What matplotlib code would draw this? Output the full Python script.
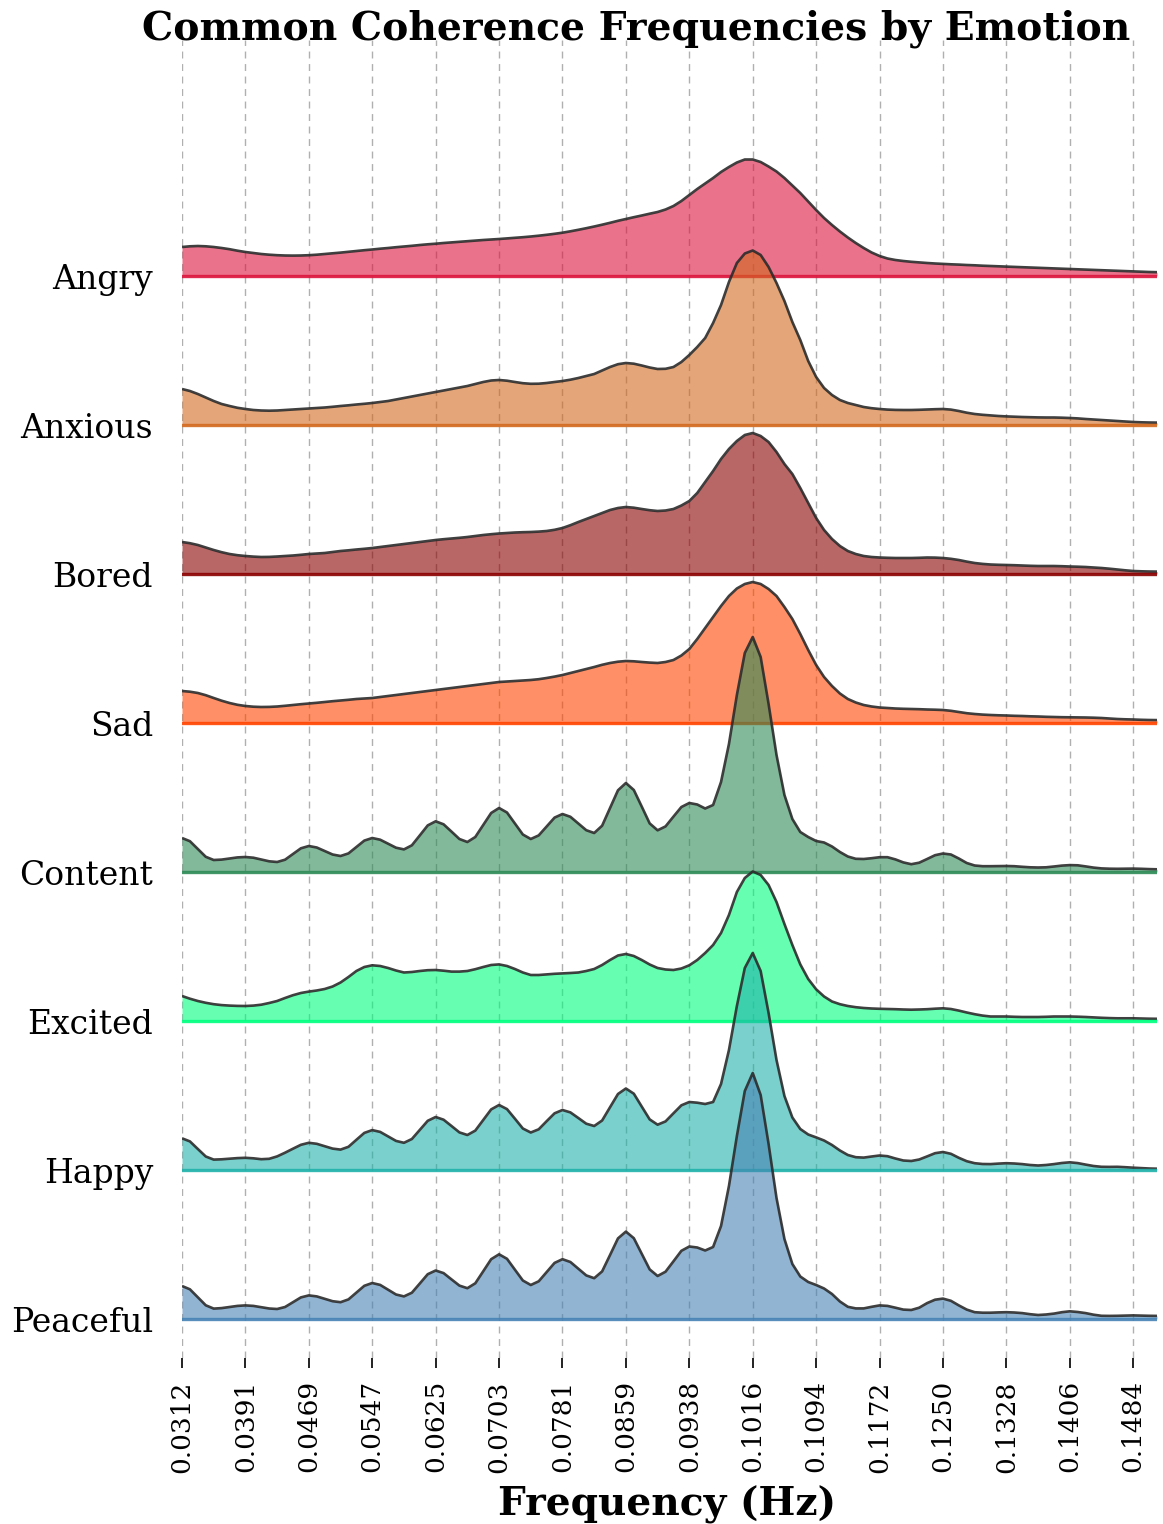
import numpy as np
import matplotlib
matplotlib.use("Agg")
import matplotlib.pyplot as plt
import matplotlib.transforms as mtransforms

# ---------------- data ----------------
emotions = ["Angry", "Anxious", "Bored", "Sad", "Content", "Excited", "Happy", "Peaceful"]
colors = ["crimson", "chocolate", "darkred", "orangered",
          "seagreen", "springgreen", "lightseagreen", "steelblue"]

# frequency grid (Hz), 1/1024 Hz spacing, 124 points
freq = np.linspace(0.03125, 0.1513671875, 124)

# density (arbitrary units), one value per grid frequency
angry = [29, 29.7, 30, 29.7, 29, 28, 26.8, 25.3, 24, 23,
         22, 21.3, 20.8, 20.5, 20.4, 20.5, 20.8, 21.3, 22, 22.7,
         23.4, 24.2, 25, 25.8, 26.5, 27.3, 28, 28.8, 29.5, 30.2,
         31, 31.7, 32.3, 33, 33.6, 34.2, 34.8, 35.4, 36, 36.5,
         37, 37.6, 38.2, 38.8, 39.5, 40.3, 41.2, 42.2, 43.3, 44.7,
         46.2, 47.8, 49.5, 51.3, 53.2, 55.2, 57, 58.8, 60.5, 62.3,
         64, 66.5, 70, 75, 81, 87, 92.5, 98, 104, 109,
         113.5, 116.5, 116.5, 114, 109.5, 104.5, 98, 90.5, 83, 74.5,
         66, 58, 51, 44.5, 38.5, 33, 28, 23.5, 20, 17.5,
         16, 15, 14.2, 13.6, 13, 12.5, 12.1, 11.7, 11.4, 11,
         10.7, 10.3, 10, 9.7, 9.4, 9.1, 8.8, 8.5, 8.2, 7.9,
         7.6, 7.3, 7, 6.7, 6.4, 6.1, 5.8, 5.5, 5.2, 4.9,
         4.6, 4.3, 4, 3.8]
anxious = [36, 34, 31, 27.5, 24, 21, 19, 17.2, 16, 15,
           14.5, 14.3, 14.5, 15, 15.5, 16, 16.5, 17, 17.5, 18.2,
           19, 19.7, 20.5, 21.2, 22, 23, 24, 25.5, 27, 28.5,
           30, 31.5, 33, 34.5, 36, 37.5, 39, 41, 43, 44.5,
           45, 44.3, 43, 41.8, 41.2, 41.3, 42, 43, 44, 45.3,
           47, 49, 51, 54.5, 58, 60.8, 62, 61.3, 59.5, 57.5,
           56, 56.2, 58, 63, 70, 78, 87, 102, 120, 143,
           162, 171.5, 174.5, 170, 158, 142, 124, 103, 85, 64,
           48, 37, 30, 25, 22, 20, 18, 16.8, 16, 15.4,
           15.1, 15, 15, 15.2, 15.5, 15.8, 16, 15.4, 14, 12.3,
           11, 10.2, 9.6, 9, 8.6, 8.3, 8, 7.8, 7.6, 7.5,
           7.5, 7.3, 7, 6.6, 6, 5.5, 5, 4.5, 4, 3.5,
           3, 2.7, 2.5, 2.4]
bored = [32, 30.8, 29, 26.5, 24, 21.8, 20, 18.8, 18, 17.4,
         17, 17.1, 17.5, 18, 18.5, 19.2, 20, 20.5, 21, 22,
         23, 23.7, 24.5, 25.2, 26, 27, 28, 29, 30, 31,
         32, 33, 34, 34.8, 35.5, 36.2, 37, 38, 39, 39.8,
         40.5, 41, 41.5, 41.8, 42, 42.4, 43, 44.2, 46, 48.8,
         52, 55, 58, 61, 64, 66, 67, 66.3, 65, 63.8,
         63, 63.5, 65, 68.5, 73, 81, 92, 103, 115, 125,
         133, 139, 141, 138, 132, 122, 110, 100, 86, 71,
         56, 44, 35, 28, 23, 20, 18, 17, 16.5, 16.2,
         16, 16, 16, 16.2, 16.5, 16.4, 16, 15.2, 14, 12.4,
         11, 10.1, 9.5, 9.2, 9, 8.8, 8.5, 8.2, 8, 8,
         8, 7.8, 7.5, 7.3, 7, 6.5, 6, 5.3, 4.5, 3.7,
         3, 2.7, 2.5, 2.4]
sad = [32, 31.3, 30, 27.8, 25, 22.3, 20, 18.2, 17, 16.3,
       16, 16.1, 16.5, 17.2, 18, 18.8, 19.5, 20.2, 21, 21.8,
       22.5, 23.2, 24, 24.5, 25, 26, 27, 28, 29, 30,
       31, 32, 33, 34, 35, 36, 37, 38, 39, 40,
       41, 41.5, 42, 42.5, 43, 43.8, 45, 46.4, 48, 50,
       52, 54, 56, 58.2, 60, 61.3, 62, 61.7, 61, 60.4,
       60, 61, 63, 67.5, 74, 84, 95, 106, 117, 127,
       134.5, 139, 141, 139, 134, 127, 116, 104, 89, 73,
       58, 46, 37, 29.5, 24, 20.5, 18, 16.5, 15.5, 15,
       14.5, 14.2, 14, 13.8, 13.5, 13.3, 13, 12.2, 11, 9.8,
       9, 8.4, 8, 7.7, 7.5, 7.2, 7, 6.7, 6.5, 6.2,
       6, 5.8, 5.7, 5.6, 5.5, 5.3, 5, 4.5, 4, 3.7,
       3.5, 3.2, 3, 2.9]
content = [34, 30.8, 23, 15.2, 12, 12.4, 13.5, 14.6, 15, 14.3,
           12.5, 10.7, 10, 12.3, 18, 23.7, 26, 24.5, 21, 17.5,
           16, 18.6, 25, 31.4, 34, 32.3, 28.3, 24.3, 22.6, 26.7,
           36.6, 46.6, 50.7, 47.7, 40.4, 33, 30, 35, 47, 59,
           64, 59.5, 48.5, 37.5, 33, 36.6, 45.5, 54.4, 58, 55.2,
           48.5, 41.8, 39, 46.3, 64, 81.7, 89, 82, 65.4, 48.6,
           41.7, 45.6, 55.4, 65, 69, 67.5, 63.5, 67, 90, 128,
           177, 219, 235, 215, 168, 117, 77, 53, 40, 35,
           31, 29.5, 25.5, 20, 15.5, 13.2, 13, 13.8, 14.8, 14.8,
           12.6, 9.6, 7.8, 9.3, 13, 16.8, 18.5, 17.5, 13.5, 9,
           6.5, 5.8, 5.8, 5.9, 6, 5.8, 5.2, 4.7, 4.5, 4.7,
           5.5, 6.4, 6.9, 6.7, 5.6, 4.4, 3.6, 3.3, 3.2, 3.3,
           3.4, 3.2, 2.9, 2.7]
excited = [25, 22.3, 20, 18.2, 16.8, 15.9, 15.4, 15.1, 15, 15.4,
           16.3, 18, 20, 23, 25.8, 28, 29.4, 30.5, 32, 34.5,
           38.5, 44, 50, 54, 55.7, 55, 53, 50.5, 48.5, 49,
           50, 50.8, 51, 50.3, 49.4, 49.4, 50, 51.8, 54, 56,
           56.6, 55, 52, 48.5, 46, 46, 46.6, 47.2, 47.6, 48,
           48.5, 50, 52, 56, 61, 65.5, 67, 65, 61, 56.5,
           53, 51.5, 51, 52.5, 55.7, 61, 68, 76, 88, 106,
           129, 143, 149.5, 146, 136, 119, 97, 76, 56.6, 42,
           31.7, 24.5, 19.5, 16.8, 15, 13.8, 13, 12.5, 12.2, 12,
           11.8, 11.5, 11.3, 11.5, 11.8, 12.3, 12.7, 12, 10.4, 8.5,
           6.8, 5.4, 4.5, 4.5, 4.5, 4.2, 4, 4, 4, 4.2,
           4.5, 4.5, 4.5, 4.3, 4, 3.6, 3.2, 2.9, 2.7, 2.7,
           2.7, 2.5, 2.3, 2.2]
happy = [31.7, 28.6, 21, 13.5, 10.4, 10.7, 11.3, 11.9, 12.2, 11.7,
         10.8, 11.2, 13.6, 17.3, 21.3, 25.2, 27.2, 26.2, 23.8, 21.4,
         20.4, 23.2, 30.2, 37.1, 39.9, 38.1, 33.6, 29.1, 27.2, 31,
         40.1, 49.2, 53, 50.3, 44, 37.6, 35, 39.4, 50, 60.6,
         65, 60.9, 51.3, 41.5, 37.5, 40.7, 48.8, 56.7, 60, 57.6,
         52, 46.3, 44, 49.5, 62.8, 76, 81.5, 76.3, 63.4, 50.6,
         45.3, 48.6, 56.7, 64.7, 68, 67.3, 66, 68, 86, 120,
         164, 202, 217, 199, 157, 110, 74, 52.5, 41, 35.5,
         32.6, 29.5, 25, 19.5, 15, 12.8, 12.4, 13.5, 14.5, 13.8,
         11.5, 9.5, 9, 10.5, 13.6, 16.8, 18, 16.2, 12.2, 8.8,
         6.8, 6, 5.9, 6.4, 6.8, 6.5, 5.9, 5, 4.5, 5,
         5.9, 7, 7.7, 6.9, 5.4, 4, 3.2, 3.1, 3.2, 2.8,
         2.3, 1.9, 1.5, 1.3]
peaceful = [33, 29.7, 21.7, 13.7, 10.4, 10.9, 12, 13.1, 13.6, 13.1,
            11.8, 10.5, 10, 12, 16.8, 21.6, 23.6, 22.6, 20.2, 17.8,
            16.8, 19.6, 26.4, 33.2, 36, 34.1, 29.3, 24.5, 22.6, 26.3,
            35.5, 44.8, 48.5, 45.9, 39.6, 33.4, 30.8, 35.7, 47.7, 59.8,
            64.7, 60.2, 49.3, 38.5, 34, 37.7, 46.9, 56.1, 59.8, 57,
            50.3, 43.6, 40.8, 47.6, 64, 80.6, 87.4, 80.8, 65.2, 49.6,
            43, 47.3, 57.7, 68.2, 72.5, 71.5, 68.5, 72, 93, 133,
            183, 228, 246, 224, 175, 121, 80, 55, 42.5, 37,
            34, 30.5, 25, 17.5, 12.2, 10.6, 10.6, 12.2, 13.6, 13.1,
            11.3, 9.4, 9, 11.3, 15.9, 19.3, 20.4, 18.2, 13.6, 9.4,
            6.8, 6.3, 6.3, 6.6, 6.8, 6.5, 5.9, 4.8, 4, 4.5,
            5.4, 6.8, 7.7, 7, 5.9, 4.3, 3.2, 3.1, 3.2, 3.4,
            3.6, 3.4, 3.2, 3.1]
densities = [angry, anxious, bored, sad, content, excited, happy, peaceful]

tick_values = [0.03125 + j / 128 for j in range(16)]
tick_labels = ["0.0312", "0.0391", "0.0469", "0.0547", "0.0625", "0.0703", "0.0781", "0.0859",
               "0.0938", "0.1016", "0.1094", "0.1172", "0.1250", "0.1328", "0.1406", "0.1484"]

# ---------------- figure ----------------
W, H = 1163, 1524
fig = plt.figure(figsize=(W / 100, H / 100), dpi=100)
ax_left, ax_right, ax_top, ax_bottom = 182, 1157, 40, 1358
ax = fig.add_axes([ax_left / W, 1 - ax_bottom / H, (ax_right - ax_left) / W,
                   (ax_bottom - ax_top) / H])

spacing_px = 149.0
scale = 1.0 / spacing_px
n = len(emotions)
ax.set_xlim(freq[0], freq[-1])
ax.set_ylim(-39 / spacing_px, -39 / spacing_px + (ax_bottom - ax_top) / spacing_px)

label_tr = mtransforms.blended_transform_factory(ax.transAxes, ax.transData)
for i, (name, col, dens) in enumerate(zip(emotions, colors, densities)):
    base = n - 1 - i
    y = base + np.asarray(dens, dtype=float) * scale
    z = 3 + 3 * i
    ax.fill_between(freq, base, y, color=col, alpha=0.6, lw=0, zorder=z)
    ax.plot(freq, y, color="#2b2b2b", lw=1.9, alpha=0.9, zorder=z + 1,
            solid_capstyle="butt", solid_joinstyle="round")
    ax.axhline(base, color=col, lw=2.4, alpha=0.9, zorder=z + 2)
    ax.text(-29 / (ax_right - ax_left), base - 13 / spacing_px, name,
            transform=label_tr, ha="right", va="baseline", fontsize=23.8,
            family="DejaVu Serif")

ax.set_xticks(tick_values)
ax.set_xticklabels(tick_labels, rotation=90, family="DejaVu Serif", fontsize=19)
ax.tick_params(axis="x", direction="out", length=7, width=1.4, pad=9, color="#222222")
ax.set_yticks([])
for s in ax.spines.values():
    s.set_visible(False)
ax.grid(axis="x", linestyle=(0, (5, 4)), color="#b0b0b0", lw=1.0, zorder=0)
ax.set_axisbelow(True)

fig.text(636 / W, 1 - 39 / H, "Common Coherence Frequencies by Emotion", ha="center",
         va="baseline", fontsize=28.3, fontweight="bold", family="DejaVu Serif")
fig.text(667 / W, 1 - 1515 / H, "Frequency (Hz)", ha="center", va="baseline",
         fontsize=28.2, fontweight="bold", family="DejaVu Serif")

fig.savefig("out.png", dpi=100)
